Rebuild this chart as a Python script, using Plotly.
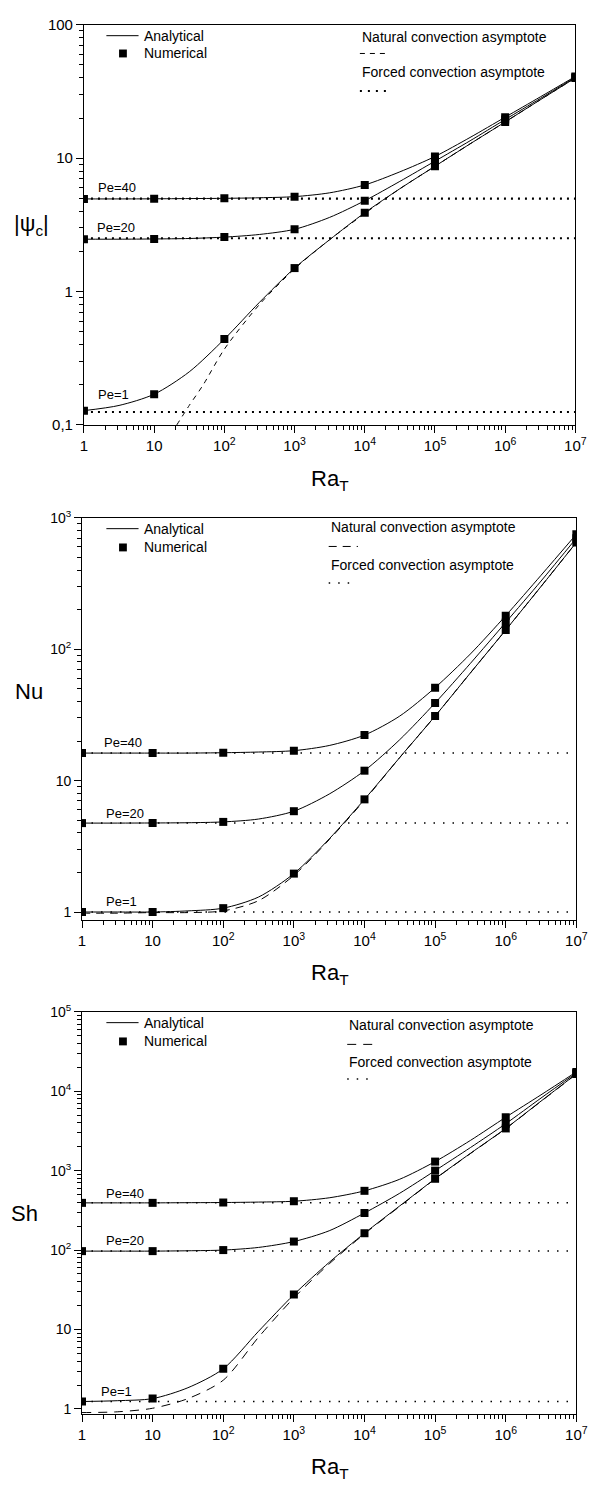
import plotly.graph_objects as go

W, H = 601, 1493

# ---------------- data ----------------
# Rayleigh numbers
ra_curve = [1, 3.16, 10, 31.6, 100, 316, 1000, 3162, 1e4, 3.16e4, 1e5, 3.16e5, 1e6, 3.16e6, 1e7]
ra_num = [1, 10, 100, 1e3, 1e4, 1e5, 1e6, 1e7]
ra_forced = [1, 1e7]

# Panel 1 : |psi_c|
psi_pe40 = [4.95, 4.95, 4.96, 4.98, 5.0, 5.05, 5.15, 5.5, 6.3, 7.9, 10.3, 14.3, 20.3, 28.8, 41]
psi_pe20 = [2.47, 2.47, 2.48, 2.5, 2.56, 2.68, 2.93, 3.6, 4.8, 6.7, 9.5, 13.5, 19.5, 28, 40.5]
psi_pe1 = [0.128, 0.14, 0.17, 0.25, 0.44, 0.83, 1.5, 2.45, 3.9, 5.9, 8.7, 12.8, 18.7, 27.4, 40]
psi_num_pe40 = [4.95, 4.96, 5.0, 5.15, 6.3, 10.3, 20.3, 41]
psi_num_pe20 = [2.47, 2.48, 2.56, 2.93, 4.8, 9.5, 19.5, 40.5]
psi_num_pe1 = [0.128, 0.17, 0.44, 1.5, 3.9, 8.7, 18.7, 40]
psi_nat_ra = [21, 31.6, 50, 100, 316, 1000, 3162, 1e4, 3.16e4, 1e5, 3.16e5, 1e6, 3.16e6, 1e7]
psi_nat = [0.1, 0.14, 0.2, 0.37, 0.8, 1.48, 2.45, 3.85, 5.9, 8.7, 12.8, 18.7, 27.4, 40]
psi_forced = [4.97, 2.51, 0.125]

# Panel 2 : Nu
nu_pe40 = [16.2, 16.2, 16.2, 16.2, 16.3, 16.5, 16.9, 18.5, 22.2, 31, 51, 92, 180, 365, 750]
nu_pe20 = [4.75, 4.75, 4.76, 4.78, 4.85, 5.1, 5.85, 7.9, 11.9, 20.5, 39, 78, 160, 330, 700]
nu_pe1 = [1.0, 1.0, 1.0, 1.02, 1.07, 1.3, 1.96, 3.6, 7.2, 15, 31, 66, 140, 300, 650]
nu_num_pe40 = [16.2, 16.2, 16.3, 16.9, 22.2, 51, 180, 750]
nu_num_pe20 = [4.75, 4.76, 4.85, 5.85, 11.9, 39, 160, 700]
nu_num_pe1 = [1.0, 1.0, 1.07, 1.96, 7.2, 31, 140, 650]
nu_nat = [0.98, 0.98, 0.99, 0.99, 1.02, 1.22, 1.9, 3.55, 7.1, 15, 31, 66, 140, 300, 650]
nu_forced = [16.2, 4.75, 1.0]

# Panel 3 : Sh
sh_pe40 = [393, 393, 393, 395, 397, 402, 412, 455, 557, 780, 1300, 2400, 4700, 9000, 17500]
sh_pe20 = [97, 97, 97, 98, 100, 108, 128, 175, 293, 520, 1000, 1950, 3900, 8200, 17000]
sh_pe1 = [1.24, 1.27, 1.35, 1.85, 3.2, 9.5, 27.5, 70, 163, 360, 790, 1650, 3400, 7500, 16500]
sh_num_pe40 = [393, 393, 397, 412, 557, 1300, 4700, 17500]
sh_num_pe20 = [97, 97, 100, 128, 293, 1000, 3900, 17000]
sh_num_pe1 = [1.24, 1.35, 3.2, 27.5, 163, 790, 3400, 16500]
sh_nat = [0.9, 0.92, 1.02, 1.35, 2.3, 8.0, 25, 67, 160, 355, 785, 1640, 3380, 7450, 16400]
sh_forced = [393, 97, 1.24]

pe_labels = ["Pe=40", "Pe=20", "Pe=1"]

# tick labels
x_tickvals = [1, 10, 100, 1e3, 1e4, 1e5, 1e6, 1e7]
x_ticktext = ["1", "10", "10<sup>2</sup>", "10<sup>3</sup>", "10<sup>4</sup>",
              "10<sup>5</sup>", "10<sup>6</sup>", "10<sup>7</sup>"]
y1_tickvals = [0.1, 1, 10, 100]
y1_ticktext = ["0,1", "1", "10", "100"]
y2_tickvals = [1, 10, 100, 1000]
y2_ticktext = ["1", "10", "10<sup>2</sup>", "10<sup>3</sup>"]
y3_tickvals = [1, 10, 100, 1e3, 1e4, 1e5]
y3_ticktext = ["1", "10", "10<sup>2</sup>", "10<sup>3</sup>", "10<sup>4</sup>", "10<sup>5</sup>"]

# ---------------- helpers ----------------
FONT = "Liberation Sans, Arial, sans-serif"


def px(x):
    return x / W


def py(y):
    return 1 - y / H


def minor_vals(lo, hi):
    out = []
    for k in range(lo, hi):
        for m in range(2, 10):
            out.append(m * 10 ** k)
    return out


fig = go.Figure()

panels = [
    dict(ax="", curves=[psi_pe40, psi_pe20, psi_pe1], nums=[psi_num_pe40, psi_num_pe20, psi_num_pe1],
         nat_x=psi_nat_ra, nat_y=psi_nat, forced=psi_forced,
         fdash="2px,5px", fwidth=2.2, ndash="5px,5px"),
    dict(ax="2", curves=[nu_pe40, nu_pe20, nu_pe1], nums=[nu_num_pe40, nu_num_pe20, nu_num_pe1],
         nat_x=ra_curve, nat_y=nu_nat, forced=nu_forced,
         fdash="1.5px,8px", fwidth=1.5, ndash="8px,6px"),
    dict(ax="3", curves=[sh_pe40, sh_pe20, sh_pe1], nums=[sh_num_pe40, sh_num_pe20, sh_num_pe1],
         nat_x=ra_curve, nat_y=sh_nat, forced=sh_forced,
         fdash="1.5px,8px", fwidth=1.5, ndash="9px,7px"),
]

for p in panels:
    xa, ya = "x" + p["ax"], "y" + p["ax"]
    # forced convection asymptotes
    for fv in p["forced"]:
        fig.add_trace(go.Scatter(x=ra_forced, y=[fv, fv], mode="lines", xaxis=xa, yaxis=ya,
                                 line=dict(color="black", width=p["fwidth"], dash=p["fdash"]),
                                 showlegend=False, hoverinfo="skip"))
    # natural convection asymptote
    fig.add_trace(go.Scatter(x=p["nat_x"], y=p["nat_y"], mode="lines", xaxis=xa, yaxis=ya,
                             line=dict(color="black", width=1, dash=p["ndash"], shape="spline", smoothing=0.8),
                             showlegend=False, hoverinfo="skip"))
    # analytical curves
    for cv in p["curves"]:
        fig.add_trace(go.Scatter(x=ra_curve, y=cv, mode="lines", xaxis=xa, yaxis=ya,
                                 line=dict(color="black", width=1, shape="spline", smoothing=0.8),
                                 showlegend=False))
    # numerical points
    for nv in p["nums"]:
        fig.add_trace(go.Scatter(x=ra_num, y=nv, mode="markers", xaxis=xa, yaxis=ya,
                                 marker=dict(symbol="square", size=8, color="black"),
                                 showlegend=False))

axis_common = dict(type="log", showline=True, mirror=True, linecolor="black", linewidth=1,
                   ticks="outside", ticklen=7, tickwidth=1, tickcolor="black",
                   showgrid=False, zeroline=False, tickmode="array",
                   tickfont=dict(family=FONT, size=15, color="black"))

layout_axes = {}
frames = [
    ("", (82, 586), (15, 420), [-1, 2], y1_tickvals, y1_ticktext, -1, 2),
    ("2", (80, 587), (514, 921), [-0.06, 3], y2_tickvals, y2_ticktext, 0, 3),
    ("3", (80, 587), (1014, 1421), [-0.062, 5], y3_tickvals, y3_ticktext, 0, 5),
]
for ax, (x0, x1), (y0, y1), yr, ytv, ytt, lo, hi in frames:
    layout_axes["xaxis" + ax] = dict(axis_common, domain=[px(x0), px(x1)], range=[0, 7],
                                     anchor="y" + ax, tickvals=x_tickvals, ticktext=x_ticktext,
                                     minor=dict(ticks="outside", ticklen=4, tickcolor="black",
                                                tickvals=minor_vals(0, 7), showgrid=False))
    yfs = 15 if ax == "" else 14
    layout_axes["yaxis" + ax] = dict(axis_common, domain=[py(y1), py(y0)], range=yr,
                                     anchor="x" + ax, tickvals=ytv, ticktext=ytt,
                                     tickfont=dict(family=FONT, size=yfs, color="black"),
                                     minor=dict(ticks="outside", ticklen=4, tickcolor="black",
                                                tickvals=minor_vals(lo, hi),
                                                showgrid=False))

fig.update_layout(width=W, height=H, margin=dict(l=0, r=0, t=0, b=0),
                  plot_bgcolor="white", paper_bgcolor="white", showlegend=False,
                  font=dict(family=FONT, color="black", size=14), **layout_axes)


def txt(x, y, s, size=14, anchor="left"):
    fig.add_annotation(x=px(x), y=py(y), xref="paper", yref="paper", text=s, showarrow=False,
                       xanchor=anchor, yanchor="middle",
                       font=dict(family=FONT, size=size, color="black"))


def hline(x0, x1, y, dash="solid", width=1):
    fig.add_shape(type="line", xref="paper", yref="paper", x0=px(x0), x1=px(x1), y0=py(y), y1=py(y),
                  line=dict(color="black", width=width, dash=dash))


def square(x, y, s=8):
    fig.add_shape(type="rect", xref="paper", yref="paper",
                  x0=px(x - s / 2), x1=px(x + s / 2), y0=py(y + s / 2), y1=py(y - s / 2),
                  fillcolor="black", line=dict(width=0))


# legends (left and right blocks)
legends = [
    (26, 44, 365, 27, 44, 63, 82, "5px,5px", "2px,6px", 2.2),
    (525, 544, 333, 523, 543, 562, 580, "8px,6px", "1.5px,8px", 1.5),
    (1025, 1044, 352, 1027, 1047, 1065, 1082, "9px,7px", "1.5px,8px", 1.5),
]
for ly, sy, nx, ny, ndy, fy, fdy, nd, fd, fw in legends:
    hline(105, 138, ly)
    txt(142, ly, "Analytical")
    square(122, sy)
    txt(142, sy, "Numerical")
    txt(nx, ny, "Natural convection asymptote")
    hline(nx, nx + 30, ndy, dash=nd)
    txt(nx, fy, "Forced convection asymptote")
    hline(nx, nx + 28, fdy, dash=fd, width=fw)

# Pe labels
pe_pos = [
    [(116, 180), (115, 220), (112, 389)],
    [(122, 741), (124, 813), (120, 902)],
    [(124, 1198), (124, 1246), (115, 1398)],
]
for pos in pe_pos:
    for (x, y), lab in zip(pos, pe_labels):
        txt(x, y, lab, size=13, anchor="center")

# axis titles
txt(334, 476, "Ra<sub>T</sub>", size=22, anchor="center")
txt(334, 976, "Ra<sub>T</sub>", size=22, anchor="center")
txt(334, 1476, "Ra<sub>T</sub>", size=22, anchor="center")
txt(28, 218, "|ψ<sub>c</sub>|", size=22, anchor="center")
txt(26, 690, "Nu", size=22, anchor="center")
txt(21, 1218, "Sh", size=22, anchor="center")

fig.write_html("out.html")
